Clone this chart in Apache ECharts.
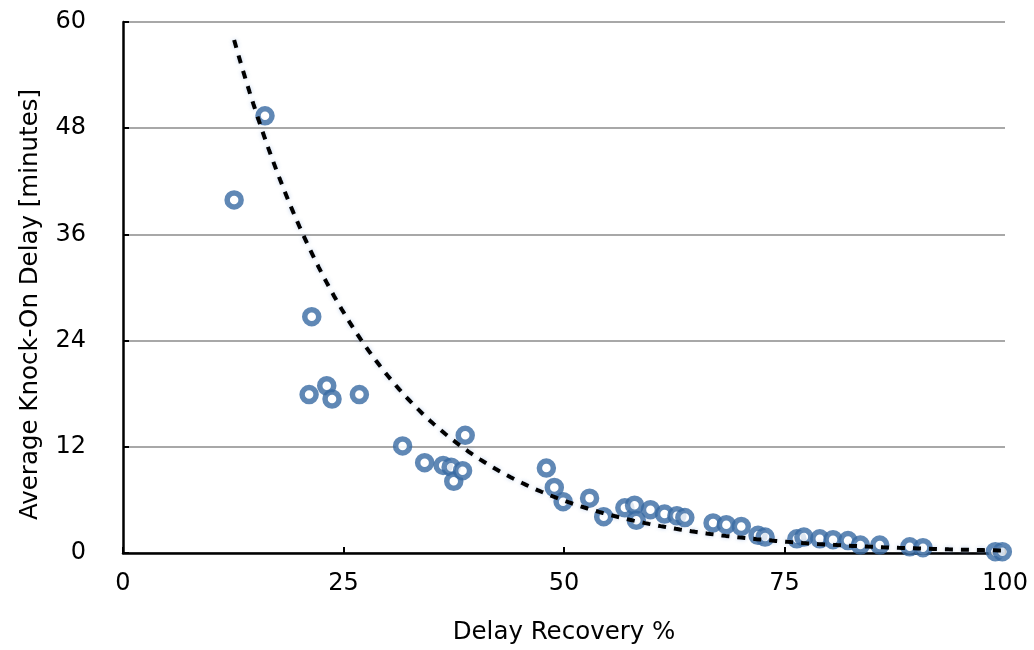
<!DOCTYPE html>
<html>
<head>
<meta charset="utf-8">
<script src="https://cdn.jsdelivr.net/npm/echarts@6/dist/echarts.min.js"></script>
<style>
  html, body { margin: 0; padding: 0; background: #ffffff; }
  #chart { width: 1034px; height: 650px; }
</style>
</head>
<body>
<div id="chart"></div>
<script>
// Delay recovery (%) for each scenario
const recovery = [
  12.6, 16.1, 21.4, 21.1, 23.1, 23.7, 26.8, 31.7, 34.2, 36.3,
  37.2, 37.5, 38.5, 38.8, 48.0, 48.9, 49.9, 52.9, 54.5, 56.9,
  58.0, 58.2, 59.8, 61.4, 62.8, 63.7, 66.9, 68.4, 70.1, 72.0,
  72.8, 76.4, 77.2, 79.0, 80.5, 82.2, 83.6, 85.8, 89.2, 90.7,
  98.9, 99.7
];
// Average knock-on delay (minutes) for each scenario
const knockOn = [
  39.9, 49.4, 26.7, 17.9, 18.9, 17.4, 17.9, 12.1, 10.2, 9.9,
  9.7, 8.1, 9.3, 13.3, 9.6, 7.4, 5.8, 6.2, 4.1, 5.1,
  5.4, 3.7, 4.9, 4.4, 4.2, 4.0, 3.4, 3.2, 3.0, 2.0,
  1.8, 1.6, 1.8, 1.6, 1.5, 1.4, 0.9, 0.9, 0.7, 0.6,
  0.15, 0.15
];
const xTicks = [0, 25, 50, 75, 100];
const yTicks = [0, 12, 24, 36, 48, 60];

// Exponential trend line: delay = trendScale * exp(trendRate * recovery)
const trendScale = 125;
const trendRate = -0.061;
const trendFrom = 12.6;
const trendTo = 99.7;
const trend = [];
for (let i = 0; i <= 200; i++) {
  const x = trendFrom + (trendTo - trendFrom) * i / 200;
  trend.push([x, trendScale * Math.exp(trendRate * x)]);
}

const points = recovery.map((x, i) => [x, knockOn[i]]);
const FONT = '"DejaVu Sans", Helvetica, Arial, sans-serif';

const chart = echarts.init(document.getElementById('chart'), null, { renderer: 'canvas' });
chart.setOption({
  animation: false,
  backgroundColor: '#ffffff',
  grid: { left: 123, right: 29, top: 22, bottom: 97, containLabel: false },
  xAxis: {
    type: 'value',
    min: xTicks[0], max: xTicks[xTicks.length - 1], interval: 25,
    name: 'Delay Recovery %',
    nameLocation: 'middle', nameGap: 67,
    nameTextStyle: { fontFamily: FONT, fontSize: 24.5, color: '#000' },
    axisLine: { show: true, onZero: false, lineStyle: { color: '#000', width: 2.5 } },
    axisTick: { show: true, inside: true, length: 6, lineStyle: { color: '#000', width: 2 } },
    axisLabel: { fontFamily: FONT, fontSize: 24, color: '#000', margin: 19 },
    splitLine: { show: false }
  },
  yAxis: {
    type: 'value',
    min: yTicks[0], max: yTicks[yTicks.length - 1], interval: 12,
    name: 'Average Knock-On Delay [minutes]',
    nameLocation: 'middle', nameGap: 80, nameRotate: 90,
    nameTextStyle: { fontFamily: FONT, fontSize: 24.5, color: '#000', padding: [0, 34, 0, 0] },
    axisLine: { show: true, onZero: false, lineStyle: { color: '#000', width: 2.5 } },
    axisTick: { show: true, inside: true, length: 6, lineStyle: { color: '#000', width: 2 } },
    axisLabel: { fontFamily: FONT, fontSize: 24, color: '#000', margin: 37 },
    splitLine: { show: true, lineStyle: { color: '#a8a8a8', width: 2 } }
  },
  series: [
    {
      type: 'scatter',
      data: points,
      symbol: 'circle',
      symbolSize: 14,
      itemStyle: { color: '#ffffff', borderColor: '#386aa3', borderWidth: 5.5 },
      z: 2
    },
    {
      type: 'line',
      data: trend,
      showSymbol: false,
      smooth: false,
      lineStyle: {
        color: '#000', width: 4, type: [8, 8],
        shadowBlur: 4, shadowColor: 'rgba(110,150,210,0.45)'
      },
      z: 3
    }
  ]
});
</script>
</body>
</html>
